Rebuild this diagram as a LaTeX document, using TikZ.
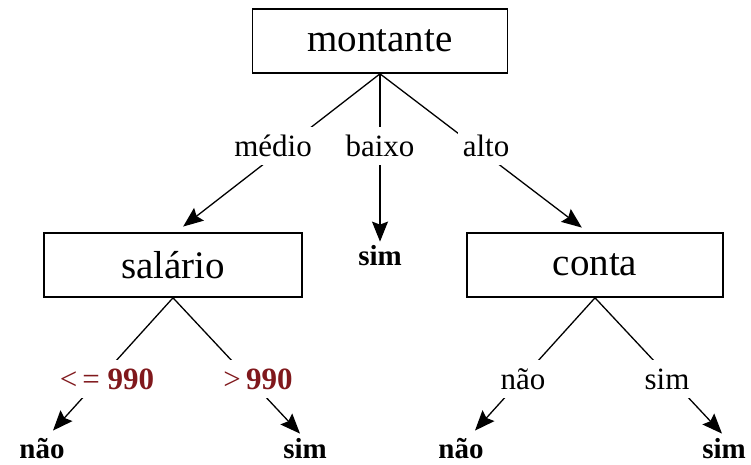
\documentclass[tikz,border=0pt]{standalone}
\usepackage{fontspec}
\setmainfont{Liberation Serif}
\usetikzlibrary{arrows.meta}
\definecolor{lblred}{RGB}{128,24,28}
\begin{document}
\begin{tikzpicture}[x=1pt,y=-1pt,
  box/.style={draw,line width=1.6pt,minimum width=#1,minimum height=64pt,inner sep=0pt,font=\fontsize{39}{44}\selectfont},
  lbl/.style={fill=white,inner sep=0pt,minimum height=38pt,minimum width=#1,font=\fontsize{31}{36}\selectfont},
  leaf/.style={inner sep=0pt,font=\fontsize{29}{34}\selectfont\bfseries},
  edge/.style={line width=1.3pt},
  arr/.style={edge,-{Stealth[length=20pt,width=16pt,inset=3pt]}}]
\useasboundingbox (0,0) rectangle (751,464);
% boxes
\node[box=255pt] (mont) at (380,41) {montante};
\node[box=258pt] (sal) at (173,265) {salário};
\node[box=256pt] (conta) at (595,265) {conta};
% leaves
\node[leaf] (sim0) at (380,256) {sim};
\node[leaf] (nao1) at (42,449) {não};
\node[leaf] (sim1) at (305,449) {sim};
\node[leaf] (nao2) at (461,449) {não};
\node[leaf] (sim2) at (724,449) {sim};
% connectors
\draw[arr,shorten >=4pt] (mont.south) -- (180,229) coordinate (salin);
\draw[arr] (mont.south) -- ([yshift=4pt]sim0.north);
\draw[arr,shorten >=4pt] (mont.south) -- (585,230) coordinate (contain);
\draw[arr] (sal.south) -- ([xshift=11pt,yshift=8pt]nao1.north);
\draw[arr] (sal.south) -- ([xshift=-5pt,yshift=5pt]sim1.north);
\draw[arr] (conta.south) -- ([xshift=14pt,yshift=8pt]nao2.north);
\draw[arr] (conta.south) -- ([xshift=-2pt,yshift=5pt]sim2.north);
% labels
\node[lbl=84pt] (lmed) at (273,146) {médio};
\node[lbl=76pt] (lbai) at (380,146) {baixo};
\node[lbl=56pt] (lalt) at (486,146) {alto};
\node[lbl=104pt,text=lblred] (lle) at (107,379) {<\,= \textbf{990}};
\node[lbl=76pt,text=lblred] (lgt) at (258,379) {>\,\textbf{990}};
\node[lbl=60pt] (lnao) at (523,379) {não};
\node[lbl=58pt] (lsim) at (667,379) {sim};
\end{tikzpicture}
\end{document}
